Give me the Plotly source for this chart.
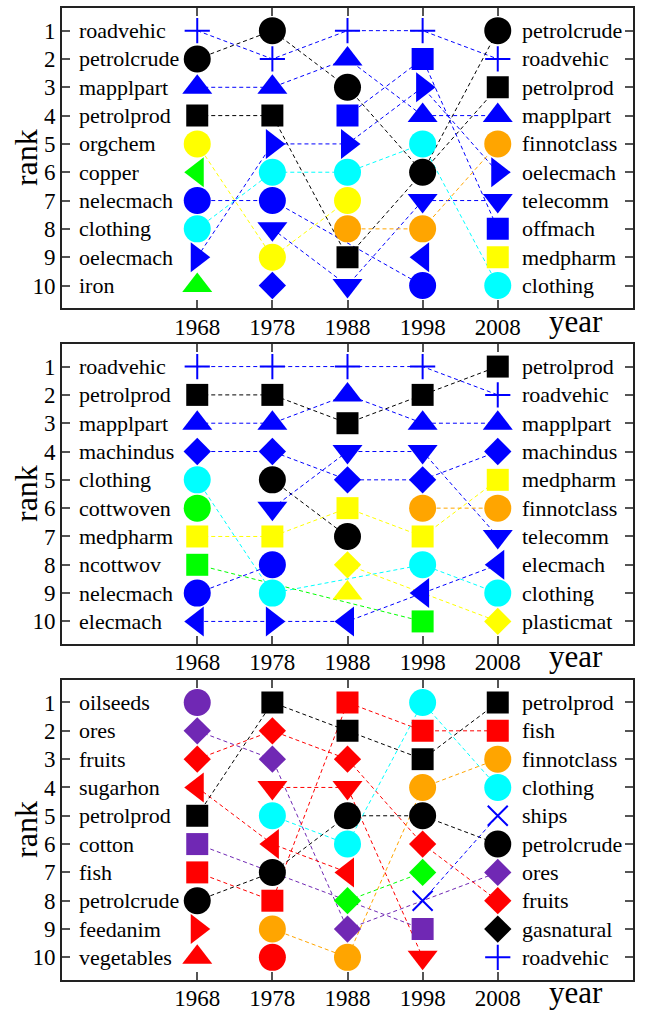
import plotly.graph_objects as go

# ---------------- data ----------------
YEARS = [1968, 1978, 1988, 1998, 2008]
RANK_TICKS = list(range(1, 11))

# top-10 lists (rank 1..10) for each year, panel 1 (top)
P1_1968 = ["roadvehic", "petrolcrude", "mapplpart", "petrolprod", "orgchem",
           "copper", "nelecmach", "clothing", "oelecmach", "iron"]
P1_1978 = ["petrolcrude", "roadvehic", "mapplpart", "petrolprod", "oelecmach",
           "clothing", "nelecmach", "telecomm", "orgchem", "machindus"]
P1_1988 = ["roadvehic", "mapplpart", "petrolcrude", "offmach", "oelecmach",
           "clothing", "orgchem", "finnotclass", "petrolprod", "telecomm"]
P1_1998 = ["roadvehic", "offmach", "oelecmach", "mapplpart", "clothing",
           "petrolcrude", "telecomm", "finnotclass", "elecmach", "nelecmach"]
P1_2008 = ["petrolcrude", "roadvehic", "petrolprod", "mapplpart", "finnotclass",
           "oelecmach", "telecomm", "offmach", "medpharm", "clothing"]

# panel 2 (middle)
P2_1968 = ["roadvehic", "petrolprod", "mapplpart", "machindus", "clothing",
           "cottwoven", "medpharm", "ncottwov", "nelecmach", "elecmach"]
P2_1978 = ["roadvehic", "petrolprod", "mapplpart", "machindus", "petrolcrude",
           "telecomm", "medpharm", "nelecmach", "clothing", "oelecmach"]
P2_1988 = ["roadvehic", "mapplpart", "petrolprod", "telecomm", "machindus",
           "medpharm", "petrolcrude", "plasticmat", "plastprim", "elecmach"]
P2_1998 = ["roadvehic", "petrolprod", "mapplpart", "telecomm", "machindus",
           "finnotclass", "medpharm", "clothing", "elecmach", "ncottwov"]
P2_2008 = ["petrolprod", "roadvehic", "mapplpart", "machindus", "medpharm",
           "finnotclass", "telecomm", "elecmach", "clothing", "plasticmat"]

# panel 3 (bottom)
P3_1968 = ["oilseeds", "ores", "fruits", "sugarhon", "petrolprod",
           "cotton", "fish", "petrolcrude", "feedanim", "vegetables"]
P3_1978 = ["petrolprod", "fruits", "ores", "meat", "clothing",
           "sugarhon", "petrolcrude", "fish", "finnotclass", "cereals"]
P3_1988 = ["fish", "petrolprod", "fruits", "meat", "petrolcrude",
           "clothing", "sugarhon", "tobacco", "ores", "finnotclass"]
P3_1998 = ["clothing", "fish", "petrolprod", "finnotclass", "petrolcrude",
           "fruits", "tobacco", "ships", "cotton", "meat"]
P3_2008 = ["petrolprod", "fish", "finnotclass", "clothing", "ships",
           "petrolcrude", "ores", "fruits", "gasnatural", "roadvehic"]

PANELS = [
    [P1_1968, P1_1978, P1_1988, P1_1998, P1_2008],
    [P2_1968, P2_1978, P2_1988, P2_1998, P2_2008],
    [P3_1968, P3_1978, P3_1988, P3_1998, P3_2008],
]

# ---------------- styles ----------------
BLUE, BLACK, YELLOW, GREEN = "#0000ff", "#000000", "#ffff00", "#00ff00"
CYAN, ORANGE, RED, PURPLE = "#00ffff", "#ffa500", "#ff0000", "#7028b4"

STYLE = {
    "roadvehic": ("cross-thin-open", BLUE),
    "petrolcrude": ("circle", BLACK),
    "petrolprod": ("square", BLACK),
    "gasnatural": ("diamond", BLACK),
    "mapplpart": ("triangle-up", BLUE),
    "machindus": ("diamond", BLUE),
    "telecomm": ("triangle-down", BLUE),
    "oelecmach": ("triangle-right", BLUE),
    "elecmach": ("triangle-left", BLUE),
    "nelecmach": ("circle", BLUE),
    "offmach": ("square", BLUE),
    "ships": ("x-thin-open", BLUE),
    "orgchem": ("circle", YELLOW),
    "medpharm": ("square", YELLOW),
    "plasticmat": ("diamond", YELLOW),
    "plastprim": ("triangle-up", YELLOW),
    "copper": ("triangle-left", GREEN),
    "iron": ("triangle-up", GREEN),
    "cottwoven": ("circle", GREEN),
    "ncottwov": ("square", GREEN),
    "tobacco": ("diamond", GREEN),
    "clothing": ("circle", CYAN),
    "finnotclass": ("circle", ORANGE),
    "oilseeds": ("circle", PURPLE),
    "ores": ("diamond", PURPLE),
    "cotton": ("square", PURPLE),
    "fruits": ("diamond", RED),
    "sugarhon": ("triangle-left", RED),
    "fish": ("square", RED),
    "feedanim": ("triangle-right", RED),
    "vegetables": ("triangle-up", RED),
    "meat": ("triangle-down", RED),
    "cereals": ("circle", RED),
}
SIZE = {"circle": 27, "square": 22, "diamond": 21, "triangle-up": 26,
        "triangle-down": 26, "triangle-left": 26, "triangle-right": 26,
        "cross-thin-open": 18, "x-thin-open": 20}

FONT = "Liberation Serif, Times New Roman, serif"
X_RANGE = [1950, 2026]
Y_RANGE = [10.8, 0.2]
DOMAINS = [(0.6912, 1.0), (0.3456, 0.6544), (0.0, 0.3088)]

fig = go.Figure()
annotations = []

for i, lists in enumerate(PANELS):
    n = i + 1
    xa = "x" if n == 1 else f"x{n}"
    ya = "y" if n == 1 else f"y{n}"
    products = []
    for lst in lists:
        for p in lst:
            if p not in products:
                products.append(p)
    pts = {}
    for p in products:
        xs, ys = [], []
        for yr, lst in zip(YEARS, lists):
            if p in lst:
                xs.append(yr)
                ys.append(lst.index(p) + 1)
        pts[p] = (xs, ys)
    # connecting lines (behind markers)
    for p in products:
        xs, ys = pts[p]
        if len(xs) > 1:
            fig.add_trace(go.Scatter(
                x=xs, y=ys, mode="lines", xaxis=xa, yaxis=ya,
                line=dict(color=STYLE[p][1], width=1, dash="4px,3px"),
                hoverinfo="skip", showlegend=False))
    # markers
    for p in products:
        xs, ys = pts[p]
        sym, col = STYLE[p]
        is_open = sym.endswith("open")
        fig.add_trace(go.Scatter(
            x=xs, y=ys, mode="markers", xaxis=xa, yaxis=ya, name=p,
            marker=dict(symbol=sym, size=SIZE[sym], color=col,
                        line=dict(color=col, width=2 if is_open else 0)),
            showlegend=False))
    # category labels: 1968 list on the left, 2008 list on the right
    for r, name in enumerate(lists[0]):
        annotations.append(dict(x=1952, y=r + 1, xref=xa, yref=ya, text=name,
                                showarrow=False, xanchor="left", yanchor="middle",
                                font=dict(family=FONT, size=22, color="black")))
    for r, name in enumerate(lists[-1]):
        annotations.append(dict(x=2011, y=r + 1, xref=xa, yref=ya, text=name,
                                showarrow=False, xanchor="left", yanchor="middle",
                                font=dict(family=FONT, size=22, color="black")))
    annotations.append(dict(x=2014.6, y=-0.043, xref=xa, yref=f"{ya} domain",
                            text="year", showarrow=False, xanchor="left",
                            yanchor="middle",
                            font=dict(family=FONT, size=31, color="black")))
    annotations.append(dict(x=-0.063, y=0.5, xref="paper", yref=f"{ya} domain",
                            text="rank", showarrow=False, textangle=-90,
                            xanchor="center", yanchor="middle",
                            font=dict(family=FONT, size=32, color="black")))

    axis_common = dict(showline=True, linecolor="#222", linewidth=1.6,
                       mirror="ticks", ticks="inside", ticklen=8,
                       tickcolor="#555", tickwidth=1.5, showgrid=False,
                       zeroline=False,
                       tickfont=dict(family=FONT, size=23, color="black"))
    xkey = "xaxis" if n == 1 else f"xaxis{n}"
    ykey = "yaxis" if n == 1 else f"yaxis{n}"
    fig.update_layout(**{
        xkey: dict(range=X_RANGE, tickvals=YEARS, anchor=ya, domain=[0, 1],
                   ticklabelstandoff=-3, **axis_common),
        ykey: dict(range=Y_RANGE, tickvals=RANK_TICKS, anchor=xa,
                   domain=list(DOMAINS[i]), **axis_common),
    })

fig.update_layout(
    width=645, height=1017,
    margin=dict(l=62, r=12, t=6, b=33),
    paper_bgcolor="white", plot_bgcolor="white",
    font=dict(family=FONT, color="black"),
    annotations=annotations,
    showlegend=False,
)

fig.write_html("out.html", config={"displayModeBar": False},
               post_script="document.body.style.margin='0';")
